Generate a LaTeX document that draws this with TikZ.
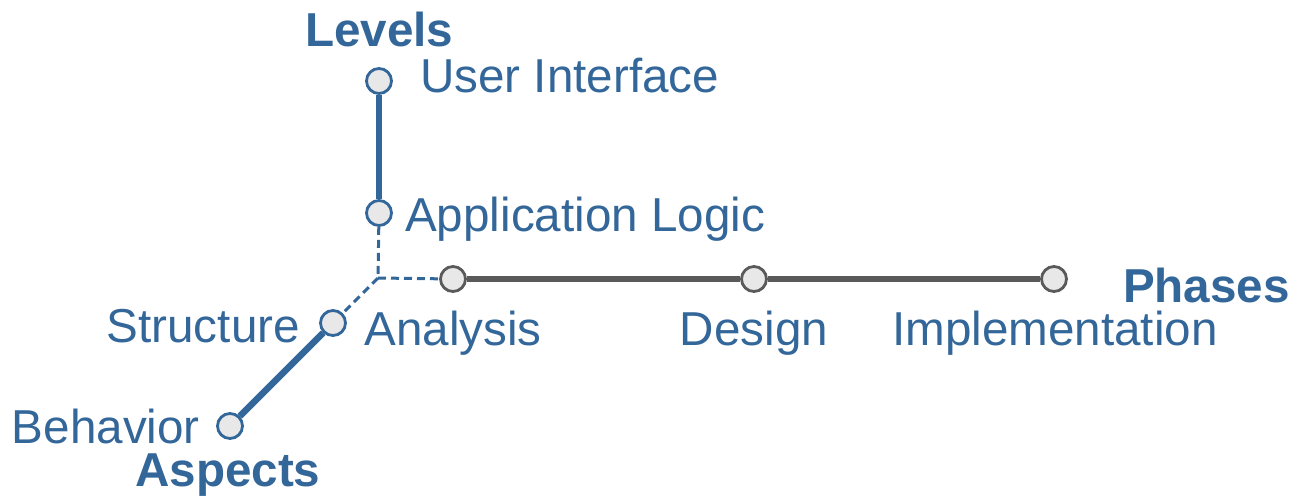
\documentclass[tikz,border=0pt]{standalone}
\usepackage{fontspec}
\setmainfont{Liberation Sans}
\definecolor{bl}{HTML}{336699}
\definecolor{gr}{HTML}{5A5A5A}
\definecolor{fl}{HTML}{E8E8E8}
\begin{document}
\begin{tikzpicture}[x=1pt,y=-1pt,
  bdot/.style={circle,draw=bl,fill=fl,line width=2.8pt,minimum size=25pt,inner sep=0pt},
  gdot/.style={circle,draw=gr,fill=fl,line width=2.8pt,minimum size=25pt,inner sep=0pt},
  lbl/.style={text=bl,inner sep=0pt,font=\fontsize{47.6}{50}\selectfont},
  ttl/.style={text=bl,inner sep=0pt,font=\fontsize{47.6}{50}\selectfont\bfseries},
  bline/.style={draw=bl,line width=6.5pt},
  gline/.style={draw=gr,line width=6.5pt},
  dline/.style={draw=bl,line width=3pt,dash pattern=on 8pt off 5pt}]
\useasboundingbox (0,0) rectangle (1294,496);
\coordinate (o) at (378,278);
\node[bdot] (ui) at (379,81) {};
\node[bdot] (al) at (379,213) {};
\node[gdot] (an) at (453,279) {};
\node[gdot] (de) at (754,279) {};
\node[gdot] (im) at (1054,279) {};
\node[bdot] (st) at (333,323) {};
\node[bdot] (be) at (230,426) {};
\draw[bline] (ui) -- (al);
\draw[dline] (al) -- (o);
\draw[dline] (o) -- (an);
\draw[dline] (o) -- (st);
\draw[gline] (an) -- (de);
\draw[gline] (de) -- (im);
\draw[bline] (st) -- (be);
\node[ttl,anchor=base west] (tlev) at (305,46) {Levels};
\node[ttl,anchor=base east] (tpha) at (1290,302) {Phases};
\node[ttl,anchor=base west] (tasp) at (135,486) {Aspects};
\node[lbl,anchor=base west] (lui) at (420,92) {User Interface};
\node[lbl,anchor=base west] (lal) at (405,231) {Application Logic};
\node[lbl,anchor=base] (lan) at (453,345) {Analysis};
\node[lbl,anchor=base] (lde) at (754,345) {Design};
\node[lbl,anchor=base] (lim) at (1055,345) {Implementation};
\node[lbl,anchor=base east] (lst) at (300,342) {Structure};
\node[lbl,anchor=base east] (lbe) at (200,443) {Behavior};
\end{tikzpicture}
\end{document}
